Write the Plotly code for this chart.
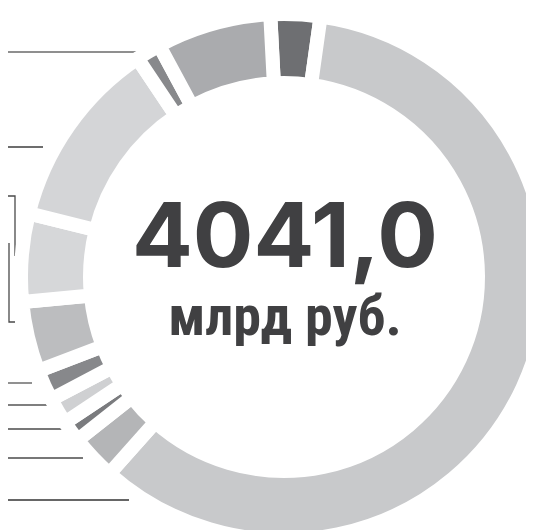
import plotly.graph_objects as go

# ---- data (млрд руб.), clockwise from the top ----
segment_labels = [
    "Сегмент 1", "Сегмент 2", "Сегмент 3", "Сегмент 4", "Сегмент 5", "Сегмент 6",
    "Сегмент 7", "Сегмент 8", "Сегмент 9", "Сегмент 10", "Сегмент 11",
]
segment_values = [123.5, 2397.7, 113.1, 52.8, 66.2, 76.3, 173.7, 218.3, 473.4, 61.7, 284.3]
segment_colors = [
    "#6e6f72", "#c8c9cb", "#b4b5b7", "#7a7b7e", "#cfd0d2", "#87888b",
    "#bcbdbf", "#d6d7d9", "#d4d5d7", "#88898c", "#aaabae",
]
total_text = "4041,0"
unit_text = "млрд руб."

# leader lines (coordinates of the overlay axes)
leader_x = [[0, 137], [0, 43], [0, 15, 15], [9, 9, 15], [0, 32], [0, 48], [0, 63], [0, 83], [0, 129]]
leader_y = [[52, 52], [147, 147], [196, 196, 256], [243, 322, 322], [383, 383], [405, 405], [429, 429], [458, 458], [500, 500]]
leader_colors = ["#6a6a6a", "#3c3c3c", "#4a4a4a", "#4a4a4a", "#555555", "#555555", "#4a4a4a", "#4a4a4a", "#333333"]

OFF = 8            # page offset of the plot inside the window
W, H = 534 + OFF, 530 + OFF
CX, CY, R = 276, 269, 263   # pie centre / radius in figure pixels

fig = go.Figure()

fig.add_trace(go.Pie(
    labels=segment_labels,
    values=segment_values,
    sort=False,
    direction="clockwise",
    rotation=-3,
    hole=0.7376,
    marker=dict(colors=segment_colors, line=dict(color="white", width=14)),
    textinfo="none",
    hoverinfo="label+value",
    showlegend=False,
    domain=dict(x=[(CX - R) / W, (CX + R) / W],
                y=[(H - CY - R) / H, (H - CY + R) / H]),
))

for xs, ys, c in zip(leader_x, leader_y, leader_colors):
    fig.add_trace(go.Scatter(
        x=xs, y=ys, mode="lines",
        line=dict(color=c, width=1.3),
        hoverinfo="skip", showlegend=False,
    ))

centre_text = (
    f"<span style='font-family:Inter, Open Sans, Roboto, sans-serif;font-size:90px'><b>{total_text}</b></span>"
    f"<br><span style='font-family:Liberation Sans Narrow, Roboto Condensed, Roboto, sans-serif;font-size:56px'><b>{unit_text}</b></span>"
)
fig.add_annotation(
    x=285, y=264, xref="x", yref="y", text=centre_text,
    showarrow=False, xanchor="center", yanchor="middle", align="center",
    font=dict(family="Inter, Roboto, sans-serif", size=52, color="#404042"),
)

fig.update_layout(
    width=W, height=H,
    margin=dict(l=0, r=0, t=0, b=0),
    paper_bgcolor="white", plot_bgcolor="white",
    xaxis=dict(range=[OFF, W + OFF], visible=False, fixedrange=True),
    yaxis=dict(range=[H + OFF, OFF], visible=False, fixedrange=True),
)

fig.write_html("out.html")
